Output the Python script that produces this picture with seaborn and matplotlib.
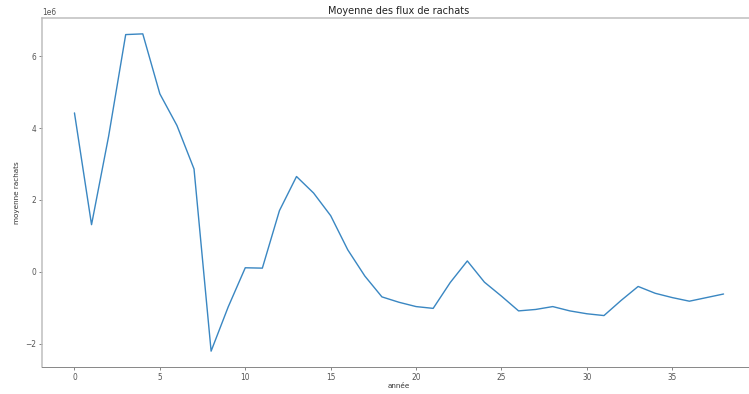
import matplotlib

matplotlib.use("Agg")
import matplotlib.pyplot as plt
import pandas as pd
import seaborn as sns

# mean buyback flows per year (values in units of 1e6)
annees = list(range(39))
moyenne_m = [4.42, 1.31, 3.77, 6.60, 6.62, 4.95, 4.07, 2.86, -2.21, -0.98,
             0.11, 0.10, 1.70, 2.65, 2.19, 1.56, 0.61, -0.12, -0.70, -0.85,
             -0.97, -1.02, -0.30, 0.30, -0.29, -0.68, -1.09, -1.05, -0.97, -1.09,
             -1.17, -1.22, -0.80, -0.41, -0.60, -0.72, -0.82, -0.72, -0.62]

df = pd.DataFrame({"année": annees, "moyenne rachats": [v * 1e6 for v in moyenne_m]})

sns.set_style("ticks")
plt.rcParams["font.family"] = ["DejaVu Sans"]

fig = plt.figure(figsize=(749 / 72, 394 / 72), dpi=72)
# the right edge of the axes runs just past the canvas, as in the reference crop
ax = fig.add_axes([42 / 749, 1 - 367 / 394, 714 / 749, 349 / 394])
sns.lineplot(data=df, x="année", y="moyenne rachats", ax=ax, color="#3a87c2", lw=1.4)

for side in ["top", "left"]:
    ax.spines[side].set_color("#bdbdbd")
    ax.spines[side].set_linewidth(1.5)
ax.spines["bottom"].set_color("#8a8a8a")
ax.spines["bottom"].set_linewidth(1.0)
ax.spines["right"].set_visible(False)
ax.tick_params(colors="#555555", labelsize=7.5, length=3, width=0.7, pad=2.5)
ax.yaxis.get_offset_text().set_color("#555555")
ax.yaxis.get_offset_text().set_fontsize(7.5)
ax.set_xticks([0, 5, 10, 15, 20, 25, 30, 35])
ax.set_xlabel("année", color="#333333", fontsize=7.2, labelpad=2)
ax.set_ylabel("moyenne rachats", color="#333333", fontsize=7.2, labelpad=5)
ax.set_title("Moyenne des flux de rachats", fontsize=9.7, color="#222222", pad=4)

fig.savefig("out.png", dpi=72)
